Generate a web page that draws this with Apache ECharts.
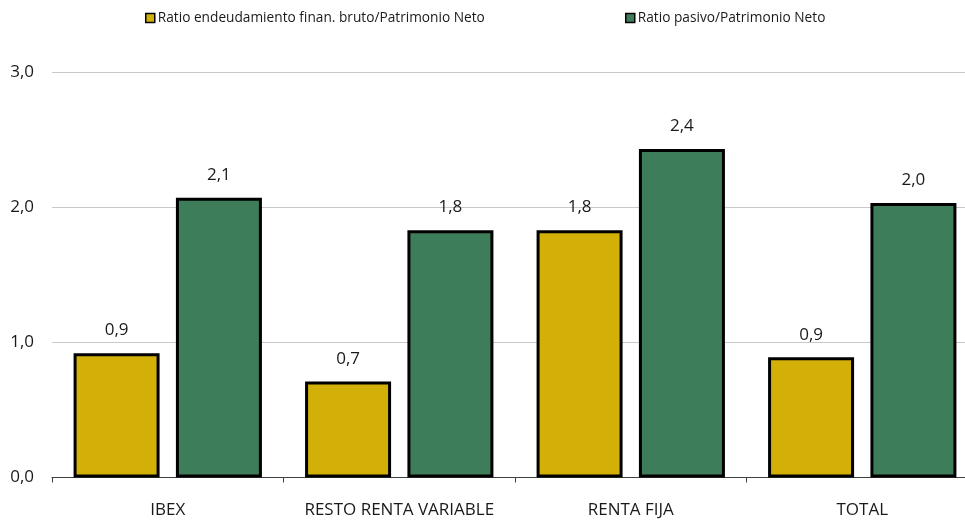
<!DOCTYPE html>
<html>
<head>
<meta charset="utf-8">
<script src="https://cdn.jsdelivr.net/npm/echarts@6/dist/echarts.min.js"></script>
<style>html,body{margin:0;padding:0;background:#fff;overflow:hidden;}#c{width:978px;height:522px;}</style>
</head>
<body>
<div id="c"></div>
<script>
const categories = ['IBEX', 'RESTO RENTA VARIABLE', 'RENTA FIJA', 'TOTAL'];
const seriesNames = ['Ratio endeudamiento finan. bruto/Patrimonio Neto', 'Ratio pasivo/Patrimonio Neto'];
const endeudamiento = [0.92, 0.71, 1.83, 0.89];
const pasivo = [2.07, 1.83, 2.43, 2.03];
const yTicks = [0, 1, 2, 3];

const FONT = "'Open Sans', 'Noto Sans', sans-serif";
const fmt = v => v.toFixed(1).replace('.', ',');
const chart = echarts.init(document.getElementById('c'));
const labelCfg = {
  show: true, position: 'top', distance: 14,
  fontFamily: FONT, fontSize: 17, color: '#1a1a1a',
  formatter: p => fmt(p.value)
};
const legTxt = { fontFamily: FONT, fontSize: 13.7, color: '#1a1a1a', padding: [0, 0, 0, -2] };
const legBase = { top: 11, padding: 0, itemWidth: 9, itemHeight: 9, icon: 'rect',
  itemStyle: { borderColor: '#000', borderWidth: 1.5 }, textStyle: legTxt };
chart.setOption({
  animation: false,
  backgroundColor: '#ffffff',
  legend: [
    Object.assign({ data: [seriesNames[0]], left: 145 }, legBase),
    Object.assign({ data: [seriesNames[1]], left: 625 }, legBase)
  ],
  grid: { left: 52, top: 72, right: 0, bottom: 44.5, containLabel: false },
  xAxis: {
    type: 'category', data: categories,
    axisLine: { lineStyle: { color: '#404040', width: 1 } },
    axisTick: { show: true, length: 5, lineStyle: { color: '#404040' } },
    axisLabel: { fontFamily: FONT, fontSize: 17, color: '#1a1a1a', margin: 24, interval: 0 }
  },
  yAxis: {
    type: 'value', min: yTicks[0], max: yTicks[yTicks.length - 1], interval: 1,
    axisLine: { show: false }, axisTick: { show: false },
    axisLabel: { fontFamily: FONT, fontSize: 17, color: '#1a1a1a', margin: 18, formatter: v => fmt(v) },
    splitLine: { lineStyle: { color: '#c8c8c8', width: 1 } }
  },
  series: [
    { name: seriesNames[0], type: 'bar', data: endeudamiento, barWidth: 86, barGap: '19%',
      itemStyle: { color: '#D2B008', borderColor: '#000', borderWidth: 3 }, label: labelCfg },
    { name: seriesNames[1], type: 'bar', data: pasivo, barWidth: 86,
      itemStyle: { color: '#3E7D5A', borderColor: '#000', borderWidth: 3 }, label: labelCfg }
  ]
});
</script>
</body>
</html>
